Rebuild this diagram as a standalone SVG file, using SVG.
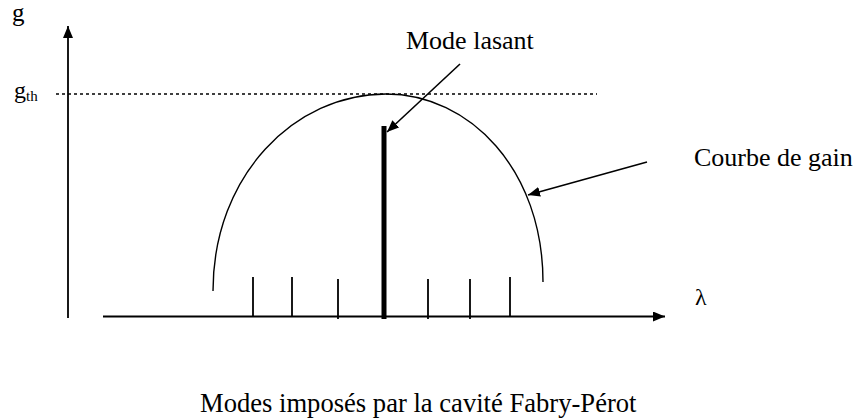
<svg xmlns="http://www.w3.org/2000/svg" width="858" height="419" viewBox="0 0 858 419">
<defs>
<style>
text{font-family:'Liberation Serif','Times New Roman','DejaVu Serif',serif;fill:#000}
.ln{stroke:#000;fill:none}
</style>
<marker id="ah" viewBox="0 0 12 10" refX="12" refY="5" markerWidth="12" markerHeight="10" markerUnits="userSpaceOnUse" orient="auto">
<path d="M0,0 L12,5 L0,10 Z" fill="#000"/>
</marker>
</defs>
<rect width="858" height="419" fill="#fff"/>
<g id="axes">
<line class="ln" x1="68" y1="318" x2="68" y2="26" stroke-width="1.8" marker-end="url(#ah)"/>
<line class="ln" x1="103" y1="316.5" x2="665" y2="316.5" stroke-width="2" marker-end="url(#ah)"/>
<text x="12" y="21" font-size="25">g</text>
<text x="14" y="98" font-size="24">g<tspan font-size="15" dy="3">th</tspan></text>
<text x="695" y="305" font-size="24">λ</text>
</g>
<g id="threshold">
<line class="ln" x1="56" y1="94" x2="597" y2="94" stroke-width="1.4" stroke-dasharray="3,3"/>
</g>
<g id="gain-curve">
<path class="ln" d="M213,291 C213,175 295,94 386,94 C470,94 543,170 543,282" stroke-width="1.4"/>
</g>
<g id="modes">
<line class="ln" x1="253" y1="277" x2="253" y2="317" stroke-width="1.8"/>
<line class="ln" x1="292" y1="277" x2="292" y2="317" stroke-width="1.8"/>
<line class="ln" x1="338" y1="279" x2="338" y2="319" stroke-width="1.8"/>
<line class="ln" x1="428" y1="279" x2="428" y2="319" stroke-width="1.8"/>
<line class="ln" x1="470" y1="279" x2="470" y2="319" stroke-width="1.8"/>
<line class="ln" x1="510" y1="277" x2="510" y2="317" stroke-width="1.8"/>
</g>
<g id="lasing-mode">
<line class="ln" x1="384" y1="126" x2="384" y2="319" stroke-width="5"/>
</g>
<g id="connectors">
<line class="ln" x1="460" y1="64" x2="387" y2="132" stroke-width="1.6" marker-end="url(#ah)"/>
<line class="ln" x1="647" y1="162" x2="528" y2="195" stroke-width="1.6" marker-end="url(#ah)"/>
</g>
<g id="label-mode">
<text x="406" y="49" font-size="26">Mode lasant</text>
</g>
<g id="label-gain">
<text x="694" y="166" font-size="26">Courbe de gain</text>
</g>
<g id="caption">
<text x="200" y="412" font-size="26.6">Modes imposés par la cavité Fabry-Pérot</text>
</g>
</svg>
